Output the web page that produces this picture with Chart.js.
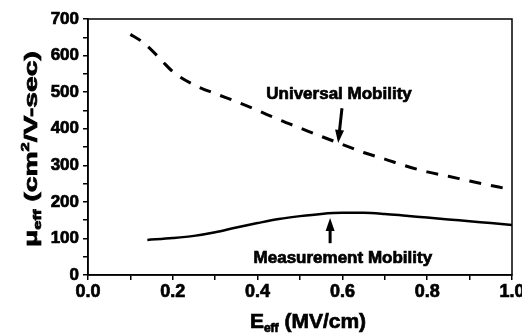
<!DOCTYPE html>
<html>
<head>
<meta charset="utf-8">
<script src="https://cdn.jsdelivr.net/npm/chart.js@4.4.1/dist/chart.umd.min.js"></script>
<style>
body{margin:0;background:#fff;}
canvas{display:block;}
</style>
</head>
<body>
<canvas id="mobility" width="522" height="335"></canvas>
<script>
// values, E_eff in MV/cm, mobility in cm2/V-sec
var universal_e=[0.10,0.125,0.15,0.175,0.20,0.25,0.30,0.35,0.40,0.45,0.50,0.55,0.60,0.65,0.70,0.75,0.80,0.85,0.90,0.95,1.00];
var universal_mu=[658,640,615,585,556,520,496,474,450,425,402,379,357,335,317,298,282,270,257,245,233];
var measured_e=[0.14,0.20,0.25,0.30,0.35,0.40,0.45,0.50,0.55,0.60,0.65,0.70,0.75,0.80,0.85,0.90,0.95,1.00];
var measured_mu=[96,101,107,117,130,142,153,161,167,170,170,167,162,157,152,147,142,137];
var x_labels=['0.0','0.2','0.4','0.6','0.8','1.0'];
var y_labels=['0','100','200','300','400','500','600','700'];
var series_names=['Universal Mobility','Measurement Mobility'];

// where the two callouts sit, in data units
var universal_note={x:0.592,y:481,from:[0.599,456],to:[0.590,361]};
var measured_note={x:0.601,y:33,from:[0.571,87],to:[0.571,156]};

var font_family="'Liberation Sans', Arial, sans-serif";

function to_points(xs,ys)
{
    var pts=[];
    for(var i=0;i<xs.length;i++){
        pts.push({x:xs[i],y:ys[i]});
    }
    return pts;
}

function draw_arrow(ctx,x1,y1,x2,y2)
{
    var ang=Math.atan2(y2-y1,x2-x1);
    var head=13, half=4.5;
    ctx.beginPath();
    ctx.moveTo(x1,y1);
    ctx.lineTo(x2-Math.cos(ang)*head*0.8,y2-Math.sin(ang)*head*0.8);
    ctx.lineWidth=3;
    ctx.stroke();
    ctx.beginPath();
    ctx.moveTo(x2,y2);
    ctx.lineTo(x2-Math.cos(ang)*head-Math.sin(ang)*half,y2-Math.sin(ang)*head+Math.cos(ang)*half);
    ctx.lineTo(x2-Math.cos(ang)*head+Math.sin(ang)*half,y2-Math.sin(ang)*head-Math.cos(ang)*half);
    ctx.closePath();
    ctx.fill();
}

// heavier text, the scan's lettering is thicker than plain bold
function heavy_text(ctx,t,x,y)
{
    ctx.lineWidth=0.7;
    ctx.strokeText(t,x,y);
    ctx.fillText(t,x,y);
}

// draws text pieces in a row: [text, size, yshift]
function draw_runs(ctx,runs,cx,base)
{
    var total=0, i;
    for(i=0;i<runs.length;i++){
        ctx.font='bold '+runs[i][1]+'px '+font_family;
        total+=ctx.measureText(runs[i][0]).width;
    }
    var x=cx-total/2;
    for(i=0;i<runs.length;i++){
        ctx.font='bold '+runs[i][1]+'px '+font_family;
        heavy_text(ctx,runs[i][0],x,base+runs[i][2]);
        x+=ctx.measureText(runs[i][0]).width;
    }
    return total;
}

var extras={
    id:'extras',
    afterDraw:function(chart){
        var ctx=chart.ctx, a=chart.chartArea;
        var xs=chart.scales.x, ys=chart.scales.y;
        ctx.save();
        ctx.strokeStyle='#000';
        ctx.fillStyle='#000';
        ctx.lineWidth=1.5;
        ctx.strokeRect(a.left,a.top,a.right-a.left,a.bottom-a.top);

        ctx.textBaseline='alphabetic';

        // callout labels
        ctx.font='bold 17px '+font_family;
        ctx.textAlign='center';
        heavy_text(ctx,series_names[0],xs.getPixelForValue(universal_note.x),ys.getPixelForValue(universal_note.y));
        heavy_text(ctx,series_names[1],xs.getPixelForValue(measured_note.x),ys.getPixelForValue(measured_note.y));
        draw_arrow(ctx,xs.getPixelForValue(universal_note.from[0]),ys.getPixelForValue(universal_note.from[1]),
                       xs.getPixelForValue(universal_note.to[0]),ys.getPixelForValue(universal_note.to[1]));
        draw_arrow(ctx,xs.getPixelForValue(measured_note.from[0]),ys.getPixelForValue(measured_note.from[1]),
                       xs.getPixelForValue(measured_note.to[0]),ys.getPixelForValue(measured_note.to[1]));

        // axis titles with sub/superscripts
        ctx.textAlign='left';
        draw_runs(ctx,[['E',21,0],['eff',12,4],[' (MV/cm)',21,0]],(a.left+a.right)/2+8,328);

        var yruns=[['\u03bc',19,0],['eff',11,4],[' (cm',19,0],['2',11,-8],['/V-sec)',19,0]];
        var w=0;
        for(var i=0;i<yruns.length;i++){
            ctx.font='bold '+yruns[i][1]+'px '+font_family;
            w+=ctx.measureText(yruns[i][0]).width;
        }
        ctx.translate(37,(a.top+a.bottom)/2+2);
        ctx.rotate(-Math.PI/2);
        ctx.scale(196/w,1);
        draw_runs(ctx,yruns,0,0);
        ctx.restore();
    }
};

var ctx=document.getElementById('mobility');
var chart=new Chart(ctx,{
    type:'scatter',
    data:{
        datasets:[
            {
                label:series_names[0],
                data:to_points(universal_e,universal_mu),
                showLine:true,
                borderColor:'#000',
                borderWidth:3,
                borderDash:[12,10],
                pointRadius:0,
                cubicInterpolationMode:'monotone'
            },
            {
                label:series_names[1],
                data:to_points(measured_e,measured_mu),
                showLine:true,
                borderColor:'#000',
                borderWidth:2.5,
                pointRadius:0,
                cubicInterpolationMode:'monotone'
            }
        ]
    },
    options:{
        responsive:false,
        animation:false,
        layout:{padding:{top:19,right:10,left:0,bottom:0}},
        plugins:{legend:{display:false},tooltip:{enabled:false}},
        scales:{
            x:{
                type:'linear',min:0,max:1,
                border:{color:'#000',width:1.5},
                grid:{drawOnChartArea:false,drawTicks:true,tickLength:5,color:'#000',lineWidth:1.5},
                ticks:{
                    stepSize:0.1,autoSkip:false,maxRotation:0,padding:1,color:'#000',
                    textStrokeColor:'#000',textStrokeWidth:0.7,
                    font:{family:font_family,size:18,weight:'bold'},
                    callback:function(v){
                        var k=Math.round(v*10);
                        return k%2==0 ? x_labels[k/2] : '';
                    }
                },
                afterFit:function(s){ s.height=60; s.paddingRight=0; s.paddingLeft=0; }
            },
            y:{
                type:'linear',min:0,max:700,
                border:{color:'#000',width:1.5},
                grid:{drawOnChartArea:false,drawTicks:true,tickLength:5,color:'#000',lineWidth:1.5},
                ticks:{
                    stepSize:50,autoSkip:false,padding:4,color:'#000',
                    textStrokeColor:'#000',textStrokeWidth:0.7,
                    font:{family:font_family,size:17,weight:'bold'},
                    callback:function(v){
                        return v%100==0 ? y_labels[v/100] : '';
                    }
                },
                afterFit:function(s){ s.width=88; s.paddingTop=0; }
            }
        }
    },
    plugins:[extras]
});
</script>
</body>
</html>
